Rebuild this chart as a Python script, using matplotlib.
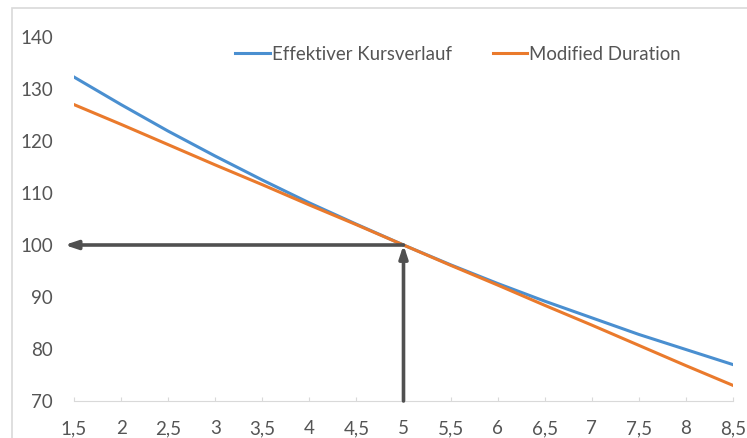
import matplotlib.pyplot as plt
from matplotlib.patches import Rectangle

# market yield in % (x categories) and bond prices
yields = [1.5, 2, 2.5, 3, 3.5, 4, 4.5, 5, 5.5, 6, 6.5, 7, 7.5, 8, 8.5]
x_labels = ["1,5", "2", "2,5", "3", "3,5", "4", "4,5", "5",
            "5,5", "6", "6,5", "7", "7,5", "8", "8,5"]
kursverlauf = [132.3, 127.0, 121.9, 117.1, 112.5, 108.1, 104.0, 100.0,
               96.2, 92.6, 89.2, 86.0, 82.8, 79.9, 77.0]
mod_duration = [127.0, 123.2, 119.3, 115.4, 111.6, 107.7, 103.9, 100.0,
                96.1, 92.3, 88.4, 84.6, 80.7, 76.8, 73.0]
y_ticks = [70, 80, 90, 100, 110, 120, 130, 140]

plt.rcParams['font.family'] = ['Lato', 'DejaVu Sans']
text_color = '#555555'

fig = plt.figure(figsize=(7.47, 4.38), dpi=100)
ax = fig.add_axes([74 / 747, 1 - 401 / 438, (733 - 74) / 747, (401 - 37) / 438])

# chart area border
fig.patches.append(Rectangle((12 / 747, -0.1), 1.2, 1 - 8 / 438 + 0.1,
                             transform=fig.transFigure, fill=False,
                             edgecolor='#d9d9d9', lw=1.2))

ax.plot(yields, kursverlauf, color='#4a8fd0', lw=2.2, label='Effektiver Kursverlauf')
ax.plot(yields, mod_duration, color='#ea7a2c', lw=2.2, label='Modified Duration')

# arrows at the 5 % / 100 point
arrow_kw = dict(arrowstyle='-|>,head_length=0.75,head_width=0.25',
                color='#505050', lw=2.6, shrinkA=0, shrinkB=0)
ax.annotate('', xy=(5, 100), xytext=(5, 70), arrowprops=arrow_kw, annotation_clip=False)
ax.annotate('', xy=(1.40, 100), xytext=(5, 100), arrowprops=arrow_kw, annotation_clip=False)

ax.set_xlim(1.5, 8.5)
ax.set_ylim(70, 140)
ax.set_xticks(yields)
ax.set_xticklabels(x_labels)
ax.set_yticks(y_ticks)

for side in ['top', 'right', 'left']:
    ax.spines[side].set_visible(False)
ax.spines['bottom'].set_color('#d9d9d9')
ax.tick_params(axis='x', colors='#d9d9d9', labelcolor=text_color, labelsize=13.5,
               length=3, direction='in', pad=14)
ax.tick_params(axis='y', length=0, labelcolor=text_color, labelsize=13.5, pad=15)

leg = ax.legend(loc='center left', bbox_to_anchor=(0.2194, 0.953), ncol=2, frameon=False,
                fontsize=13.4, handlelength=1.85, handletextpad=0.1, columnspacing=2.2,
                labelcolor=text_color)

fig.savefig('out.png', dpi=100)
